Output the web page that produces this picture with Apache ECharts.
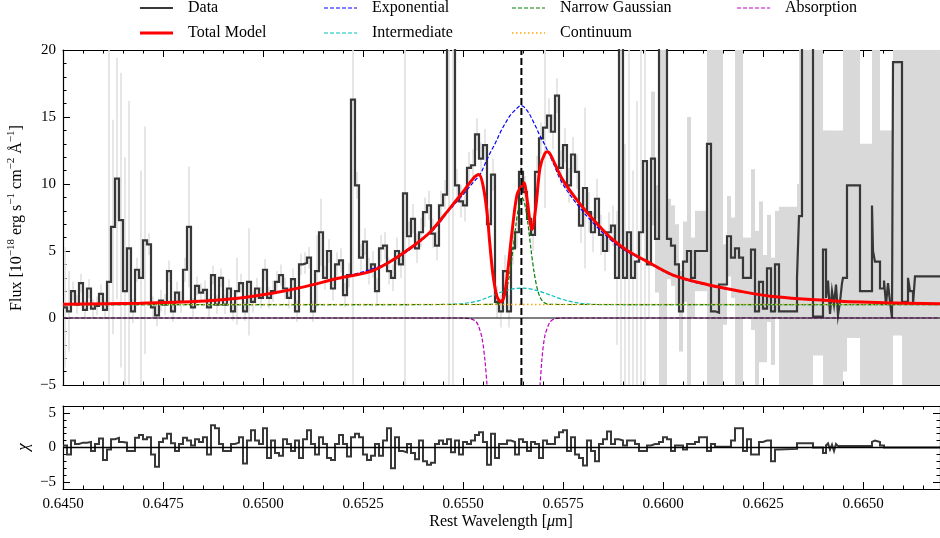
<!DOCTYPE html>
<html><head><meta charset="utf-8">
<script src="https://cdn.jsdelivr.net/npm/echarts@6/dist/echarts.min.js"></script>
<style>html,body{margin:0;padding:0;background:#fff}#c{width:940px;height:538px}</style>
</head><body><div id="c"></div>
<script>
const FONT = '"Liberation Serif", "DejaVu Serif", serif';
const xMin = 0.645, xMax = 0.666925;
const xMajorTicks = [0.645, 0.6475, 0.65, 0.6525, 0.655, 0.6575, 0.66, 0.6625, 0.665];
const xTickLabels = ['0.6450','0.6475','0.6500','0.6525','0.6550','0.6575','0.6600','0.6625','0.6650'];
const chiTicks = [-5, 0, 5];
const chiMinorTicks = [-6,-4,-3,-2,-1,1,2,3,4,6];
const lineCenter = 0.65646;

// dense part of the spectrum: bins start at 0.6450, width 0.0001 um
const denseStart = 0.645, denseStep = 0.0001;
const denseFlux = [
0.8,0.5,2.0,1.0,2.6,0.6,2.2,0.7,0.9,1.8,
0.6,2.7,6.8,10.4,7.3,2.0,5.2,0.5,3.6,3.0,
5.8,5.5,0.8,0.2,1.3,1.0,3.5,0.5,1.9,1.2,
3.6,6.8,0.8,2.4,1.9,2.1,0.8,3.2,1.0,3.0,
1.0,2.2,0.5,2.0,2.6,0.5,2.7,1.2,2.2,1.5,
3.6,1.5,2.0,2.7,3.2,2.2,1.5,2.9,0.5,4.0,
4.1,4.5,0.5,3.5,6.4,3.0,5.0,2.2,4.0,4.3,
1.7,3.2,16.3,9.9,4.5,5.7,3.5,4.0,2.0,5.2,
5.4,3.5,3.0,5.0,4.0,9.3,6.1,7.4,5.2,6.4,
7.9,8.4,6.3,5.4,8.4,9.2,24,25,9.9,8.7,
8.4,11.2,11.4,13.7,11.9,12.9,7.0,10.7,1.2,0.5,
3.5,0.5,5.2,6.4,10.9,9.4,7.4,6.2,10.9,13.4,
14.2,15.1,13.9,16.6,11.2,12.9,9.9,12.2,10.9,6.9,
9.7,7.9,6.4,8.9,6.2,5.0,6.4,6.9,3.0,25,
3.0,6.4,3.0,4.2,6.4,11.7,4.0,11.9,5.9,25,
24,5.9,5.4,4.0,0.5,4.2,5.0,3.0,5.0,5.0,
5.0,13.0,0.5,0.4,2.5,2.5,6.1,4.5,5.2,4.5,
3.0,3.0,5.1,0.5,2.7,0.7,3.7,0.5,4.0];
const denseErr = [
4.5,3.0,0.7,0.7,0.7,0.7,0.7,0.7,0.7,0.7,
0.7,30,8,9,11,10,11,0.9,0.9,8,
8.5,0.8,0.8,0.8,0.8,0.8,0.8,0.8,0.8,0.8,
0.9,4.5,0.7,0.7,0.7,0.7,0.7,0.7,0.7,0.7,
0.7,0.7,0.7,2.5,0.7,0.7,4,0.8,0.8,0.8,
0.8,0.8,0.8,0.8,0.8,0.8,0.8,0.8,0.8,0.8,
0.8,0.8,0.8,2.7,2.5,0.9,0.9,0.9,0.9,0.9,
0.9,0.9,30,1.0,1.0,1.0,1.0,1.0,1.0,1.0,
1.0,1.0,1.0,1.0,1.0,30,1.1,1.1,1.1,1.1,
1.1,1.1,1.1,1.1,1.1,1.1,30,30,1.2,1.2,
1.2,1.2,1.2,1.2,1.2,1.2,1.2,1.2,1.2,1.2,
1.2,1.2,1.2,1.2,1.2,1.2,1.2,1.2,1.2,1.2,
6,1.3,1.3,1.3,1.3,1.3,1.3,1.3,1.3,1.3,
6,1.5,1.5,1.5,1.5,1.5,1.5,1.5,5,30,
10,30,8,12,30,30,4,5,4,30,
30,3,3,3,3,3,10,3,3,3,
3,30,30,30,30,3,3,3,30,30,
3,3,6,6,6,4,4,4,4];
const denseChi = [
0.3,-1.0,1.0,0.5,0.7,0.7,0.8,-0.5,0.5,1.3,
-1.8,-0.3,1.2,1.4,0.8,0.7,-0.5,-0.5,1.4,1.8,
1.2,1.5,-1.0,-2.8,0.8,1.3,2.0,0.6,-0.5,0.5,
1.4,1.0,0.3,1.2,0.8,1.5,-1.0,3.2,2.8,0.5,
-0.5,-0.5,0.5,0.7,1.5,-2.3,1.0,2.5,1.0,0.5,
2.8,-1.5,1.0,-0.8,-1.2,1.2,0.5,-0.5,1.0,-1.5,
1.2,2.5,0.5,-1.0,1.5,0.5,-1.5,-1.8,0.5,1.8,
0.5,-1.3,1.5,2.0,1.5,-1.0,-1.8,-1.2,0.5,-1.2,
1.0,2.8,-3.0,1.5,-0.5,-0.7,0.5,-0.8,-1.7,1.0,
-2.0,-2.5,-2.2,0.5,1.0,0.5,1.2,-0.7,1.0,-1.0,
0.8,0.5,1.0,1.8,2.2,0.8,-2.5,2.0,-1.5,0.5,
0.5,1.0,0.8,-1.0,1.2,0.8,-0.5,0.8,0.5,-1.5,
1.0,0.5,0.5,1.5,2.2,2.5,-0.5,1.5,-1.0,-1.5,
-2.6,1.0,-0.5,-2.0,0.5,1.2,2.3,0.5,1.2,1.0,
0.3,1.0,1.0,0.5,-0.5,-0.5,0.3,0.5,0.5,0.8,
1.5,1.2,-0.5,0.3,0.3,-0.3,0.5,0.5,0.8,1.5,
1.5,-0.5,0.5,0.1,0.1,0.1,0.1,1.0,2.8,2.8,
-0.5,1.2,-1.0,-1.0,0.8,1.0,1.0,-2.0,-0.3];

// sparse (wide pixel) part of the spectrum: bin left edges
const sparseX = [0.6629,0.66335,0.6634,0.663475,0.66375,0.664,0.664075,0.664125,0.664175,0.664225,0.664275,0.664325,0.664375,0.664425,0.664475,0.6645,0.6646,0.664925,0.665225,0.66525,0.6653,0.665425,0.665525,0.665575,0.665625,0.665675,0.665725,0.66575,0.665975,0.666125,0.666175,0.66625,0.6663,0.666925];
const sparseFlux = [0.5,3.0,7.6,25,0.1,5.1,1.5,2.8,0.3,2.0,1.0,2.5,0.2,1.2,2.6,3.0,9.9,2.0,8.4,5.0,4.2,2.2,2.8,1.0,2.6,1.2,0.0,19.1,1.2,3.0,2.0,1.0,3.1,3.1];
const sparseLo = [-6,-6,-6,-6,-2.8,-6,-6,-6,-6,-6,-6,-6,-6,-6,-6,-4,-1.5,-6,-6,-6,-6,-6,-6,-6,-6,-6,-6,-1.3,-6,-6,-6,-6,-6,-6];
const sparseHi = [8.3,10,22,22,22,14,14,14,14,14,14,14,14,14,14,22,22,13,22,22,22,14,14,14,14,14,14,22,22,22,22,22,22,22];
const sparseChi = [-0.2,0.6,0.6,0.6,0.0,-0.8,0.3,0.6,-0.3,0.4,-0.5,0.5,0.2,0.2,0.2,0.2,0.2,0.2,0.8,1.0,0.8,0.3,0.0,0.0,0.0,0.0,0.0,0.0,0.0,0.0,0.0,0.0,0.0,0.0];

// model curves
const totalX = [0.645,0.646925,0.64855,0.649375,0.650225,0.65105,0.651875,0.652675,0.653175,0.653675,0.654175,0.654675,0.655,0.65525,0.6554,0.6555,0.6556,0.655675,0.65575,0.65585,0.65595,0.656025,0.6561,0.656225,0.65635,0.656475,0.656525,0.6566,0.656675,0.656725,0.656825,0.656925,0.65705,0.657125,0.65725,0.657475,0.657875,0.6583,0.658725,0.659125,0.65955,0.66025,0.6611,0.661925,0.66275,0.6643,0.66555,0.666925];
const totalY = [1.03,1.10,1.27,1.47,1.84,2.34,2.96,3.46,4.2,5.2,6.4,8.2,9.4,10.4,10.7,9.9,7.9,5.4,3.2,1.6,1.2,1.6,3.0,6.4,9.2,9.9,10.1,8.9,7.2,6.6,8.4,11.2,12.3,12.4,11.8,10.4,8.7,7.2,5.9,5.0,4.3,3.2,2.5,2.0,1.6,1.27,1.14,1.07];
const expX = [0.645,0.646925,0.64855,0.650225,0.651875,0.653175,0.654175,0.654675,0.655,0.65525,0.655425,0.65555,0.655675,0.6558,0.655925,0.65605,0.656175,0.6563,0.65645,0.6566,0.6568,0.656925,0.65705,0.65725,0.657475,0.657875,0.6583,0.658725,0.659125,0.65955,0.66025,0.6611,0.661925,0.66275,0.6643,0.66555,0.666925];
const expY = [1.03,1.10,1.27,1.84,2.96,4.2,6.35,8.1,9.2,10.1,10.7,11.5,12.3,13.0,13.8,14.5,15.1,15.5,15.85,15.5,14.4,13.6,12.9,11.6,10.1,8.4,6.95,5.75,4.9,4.25,3.15,2.45,1.97,1.58,1.26,1.13,1.07];
const interX = [0.645,0.653925,0.654425,0.654925,0.655175,0.655425,0.655675,0.655925,0.656175,0.65645,0.656675,0.656925,0.657175,0.657425,0.657675,0.657925,0.658175,0.65855,0.666925];
const interY = [1.0,1.0,1.01,1.06,1.15,1.32,1.6,1.9,2.13,2.23,2.17,1.98,1.72,1.45,1.24,1.1,1.03,1.0,1.0];
const narrowX = [0.645,0.655775,0.655875,0.65595,0.656025,0.6561,0.656175,0.65625,0.656325,0.6564,0.656475,0.65655,0.656625,0.6567,0.656775,0.65685,0.656925,0.657,0.657075,0.657175,0.666925];
const narrowY = [1.0,1.01,1.07,1.22,1.56,2.27,3.46,5.12,7.0,8.43,9.0,8.43,7.0,5.12,3.46,2.27,1.56,1.22,1.07,1.01,1.0];
const contX = [0.645,0.666925];
const contY = [1.0,1.0];
const absX = [0.645,0.654925,0.655175,0.6553,0.655375,0.655475,0.65555,0.6556,0.655675,0.6558,0.65605,0.65625,0.65645,0.656675,0.6568,0.656875,0.656925,0.656975,0.65705,0.657175,0.6573,0.657475,0.666925];
const absY = [0,0,-0.05,-0.2,-0.5,-1.5,-3.2,-5.0,-8,-15,-30,-35,-30,-15,-8,-6.2,-5.0,-3.0,-1.3,-0.3,-0.05,0,0];

// ---------- build ----------
const nD = denseFlux.length;
const denseX = denseFlux.map((_, i) => Math.round((denseStart + denseStep * i) * 1e7) / 1e7);
const allX = denseX.concat(sparseX);
const fluxData = allX.map((x, i) => [x, i < nD ? denseFlux[i] : sparseFlux[i - nD]]);
const chiData = allX.map((x, i) => [x, i < nD ? denseChi[i] : sparseChi[i - nD]]);
const bandData = [];
for (let i = 0; i < allX.length - 1; i++) {
  let lo, hi, narrow;
  if (i < nD) { lo = denseFlux[i] - denseErr[i]; hi = denseFlux[i] + denseErr[i]; narrow = allX[i] < 0.6597 ? 1 : 0; }
  else { lo = sparseLo[i - nD]; hi = sparseHi[i - nD]; narrow = 0; }
  bandData.push([allX[i], allX[i + 1], lo, hi, narrow]);
}
const zip = (a, b) => a.map((x, i) => [x, b[i]]);
const xMinorTicks = [];
for (let k = 0; k <= 43; k++) xMinorTicks.push(Math.round((0.645 + 0.0005 * k) * 1e6) / 1e6);

const minus = v => (v < 0 ? '\u2212' + Math.abs(v) : String(v));
const tickLine = { color: '#000', width: 1 };

function xAxes(grid, labels) {
  const base = { type: 'value', gridIndex: grid, min: xMin, max: xMax, splitLine: { show: false } };
  return [
    Object.assign({}, base, { position: 'bottom',
      axisLine: { show: true, onZero: false, lineStyle: { color: '#000', width: 1.2 } },
      axisTick: { show: true, inside: true, length: 7, lineStyle: tickLine, customValues: xMajorTicks },
      axisLabel: { show: labels, customValues: xMajorTicks, formatter: v => xTickLabels[xMajorTicks.findIndex(t => Math.abs(t - v) < 1e-9)] || '',
        fontFamily: FONT, fontSize: 15, color: '#000', margin: 8 } }),
    Object.assign({}, base, { position: 'bottom',
      axisLine: { show: false, onZero: false },
      axisTick: { show: true, inside: true, length: 3.5, lineStyle: tickLine, customValues: xMinorTicks },
      axisLabel: { show: false } }),
    Object.assign({}, base, { position: 'top',
      axisLine: { show: true, onZero: false, lineStyle: { color: '#000', width: 1.2 } },
      axisTick: { show: true, inside: true, length: 7, lineStyle: tickLine, customValues: xMajorTicks },
      axisLabel: { show: false } }),
    Object.assign({}, base, { position: 'top',
      axisLine: { show: false, onZero: false },
      axisTick: { show: true, inside: true, length: 3.5, lineStyle: tickLine, customValues: xMinorTicks },
      axisLabel: { show: false } })
  ];
}
const yTop = ['left', 'right'].map(pos => ({
  type: 'value', gridIndex: 0, position: pos, min: -5, max: 20, interval: 5,
  axisLine: { show: true, onZero: false, lineStyle: { color: '#000', width: 1.2 } },
  axisTick: { show: true, inside: true, length: 7, lineStyle: tickLine },
  minorTick: { show: true, splitNumber: 5, length: 3.5, lineStyle: tickLine },
  splitLine: { show: false }, minorSplitLine: { show: false },
  axisLabel: { show: pos === 'left', formatter: minus, fontFamily: FONT, fontSize: 15, color: '#000', margin: 7 }
}));
const yChi = [];
['left', 'right'].forEach(pos => {
  yChi.push({ type: 'value', gridIndex: 1, position: pos, min: -6, max: 6,
    axisLine: { show: true, onZero: false, lineStyle: { color: '#000', width: 1.2 } },
    axisTick: { show: true, inside: true, length: 7, lineStyle: tickLine, customValues: chiTicks },
    splitLine: { show: false },
    axisLabel: { show: pos === 'left', customValues: chiTicks, formatter: minus, fontFamily: FONT, fontSize: 15, color: '#000', margin: 7 } });
  yChi.push({ type: 'value', gridIndex: 1, position: pos, min: -6, max: 6,
    axisLine: { show: false, onZero: false },
    axisTick: { show: true, inside: true, length: 3.5, lineStyle: tickLine, customValues: chiMinorTicks },
    splitLine: { show: false }, axisLabel: { show: false } });
});

const lineS = (name, data, color, width, type, z, smooth) => ({
  name, type: 'line', xAxisIndex: 0, yAxisIndex: 0, data, showSymbol: false, symbol: 'none',
  smooth: smooth === undefined ? 0.35 : smooth, clip: true, z,
  lineStyle: { color, width, type }, animation: false, silent: true
});
const dataS = (data, xi, yi, width) => ({
  type: 'line', step: 'end', xAxisIndex: xi, yAxisIndex: yi, data, showSymbol: false, symbol: 'none',
  clip: true, z: 2, lineStyle: { color: '#383838', width, join: 'miter' }, animation: false, silent: true
});

const series = [
  { type: 'custom', xAxisIndex: 0, yAxisIndex: 0, data: bandData, z: 1, silent: true, animation: false,
    encode: { x: [0, 1], y: [2, 3] },
    renderItem: function (params, api) {
      const p0 = api.coord([api.value(0), api.value(3)]);
      const p1 = api.coord([api.value(1), api.value(2)]);
      let x = p0[0], w = p1[0] - p0[0];
      if (api.value(4) === 1) { x += w * 0.3; w *= 0.4; }
      const cs = params.coordSys;
      const r = echarts.graphic.clipRectByRect(
        { x: x, y: p0[1], width: w, height: p1[1] - p0[1] },
        { x: cs.x, y: cs.y, width: cs.width, height: cs.height });
      return r && { type: 'rect', shape: r, style: { fill: api.value(4) === 1 ? '#e0e0e0' : '#d9d9d9' } };
    } },
  dataS(fluxData, 0, 0, 2.2),
  lineS('Exponential', zip(expX, expY), '#0000ff', 1.2, [4, 2], 3),
  lineS('Intermediate', zip(interX, interY), '#00bfbf', 1.2, [4, 2], 3),
  lineS('Narrow Gaussian', zip(narrowX, narrowY), '#008000', 1.2, [4, 2], 3, 0.3),
  lineS('Continuum', zip(contX, contY), '#ffa500', 1.5, [1.5, 2.5], 3, false),
  lineS('Absorption', zip(absX, absY), '#bf00bf', 1.2, [4, 2], 3, 0.3),
  lineS('Total Model', zip(totalX, totalY), '#ff0000', 3, 'solid', 4, 0.3),
  lineS('zero', [[xMin, 0], [xMax, 0]], '#000', 1, 'solid', 5, false),
  lineS('line', [[lineCenter, -5], [lineCenter, 20]], '#000', 2, [7, 3], 6, false),
  dataS(chiData, 4, 2, 2.0),
  { name: 'chi0', type: 'line', xAxisIndex: 4, yAxisIndex: 2, data: [[xMin, 0], [xMax, 0]], showSymbol: false, symbol: 'none',
    z: 3, lineStyle: { color: '#000', width: 1.5 }, animation: false, silent: true }
];

// legend drawn as graphics
const legendItems = [
  { t: 'Data', x: 140, y: 8, c: '#383838', w: 2, d: null },
  { t: 'Exponential', x: 324, y: 8, c: '#0000ff', w: 1.2, d: [4, 2] },
  { t: 'Narrow Gaussian', x: 512, y: 8, c: '#008000', w: 1.2, d: [4, 2] },
  { t: 'Absorption', x: 737, y: 8, c: '#bf00bf', w: 1.2, d: [4, 2] },
  { t: 'Total Model', x: 140, y: 33, c: '#ff0000', w: 3, d: null },
  { t: 'Intermediate', x: 324, y: 33, c: '#00bfbf', w: 1.2, d: [4, 2] },
  { t: 'Continuum', x: 512, y: 33, c: '#ffa500', w: 1.5, d: [1.5, 2.5] }
];
const graphics = [];
legendItems.forEach(it => {
  graphics.push({ type: 'line', silent: true, shape: { x1: it.x, y1: it.y, x2: it.x + 33, y2: it.y },
    style: { stroke: it.c, lineWidth: it.w, lineDash: it.d || null } });
  graphics.push({ type: 'text', silent: true, x: it.x + 48, y: it.y,
    style: { text: it.t, fontFamily: FONT, fontSize: 16, fill: '#000', align: 'left', verticalAlign: 'middle' } });
});
const richBase = { n: { fontFamily: FONT, fontSize: 16, fill: '#000', lineHeight: 22, verticalAlign: 'middle' },
  s: { fontFamily: FONT, fontSize: 11, fill: '#000', lineHeight: 11, verticalAlign: 'top' },
  i: { fontFamily: FONT, fontSize: 16, fontStyle: 'italic', fill: '#000', lineHeight: 22, verticalAlign: 'middle' } };
graphics.push({ type: 'text', silent: true, x: 17, y: 218, rotation: Math.PI / 2,
  style: { text: '{n|Flux [10}{s|\u221218}{n| erg s}{s|\u22121}{n| cm}{s|\u22122}{n| \u00c5}{s|\u22121}{n|]}', rich: richBase,
    align: 'center', verticalAlign: 'middle' } });
graphics.push({ type: 'text', silent: true, x: 24, y: 447, rotation: Math.PI / 2,
  style: { text: '\u03c7', fontFamily: FONT, fontSize: 17, fontStyle: 'italic', fill: '#000', align: 'center', verticalAlign: 'middle' } });
graphics.push({ type: 'text', silent: true, x: 501, y: 522,
  style: { text: '{n|Rest Wavelength [}{i|\u03bc}{n|m]}', rich: richBase, align: 'center', verticalAlign: 'middle' } });

const chart = echarts.init(document.getElementById('c'), null, { renderer: 'canvas' });
chart.setOption({
  backgroundColor: '#fff',
  animation: false,
  grid: [
    { left: 63, top: 50, width: 877, height: 335, containLabel: false, outerBoundsMode: 'none' },
    { left: 63, top: 406, width: 877, height: 83, containLabel: false, outerBoundsMode: 'none' }
  ],
  xAxis: xAxes(0, false).concat(xAxes(1, true)),
  yAxis: yTop.concat(yChi),
  series,
  graphic: graphics
});
</script></body></html>
